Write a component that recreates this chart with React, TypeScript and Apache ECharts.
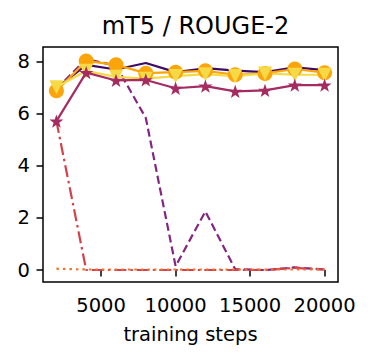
import React, { useEffect, useRef } from "react";
import * as echarts from "echarts";

const steps = [2000, 4000, 6000, 8000, 10000, 12000, 14000, 16000, 18000, 20000];
const darkSolid = [6.98, 7.88, 7.7, 7.95, 7.6, 7.75, 7.66, 7.6, 7.78, 7.68];
const dashedPurple = [6.95, 8.1, 7.85, 5.84, 0.15, 2.25, 0.03, 0.0, 0.1, 0.02];
const starLine = [5.72, 7.58, 7.28, 7.3, 6.98, 7.06, 6.86, 6.9, 7.1, 7.1];
const dashDotRed = [5.72, 0.0, 0.0, 0.0, 0.0, 0.0, 0.0, 0.0, 0.08, 0.02];
const dottedOrange = [0.05, 0.02, 0.02, 0.02, 0.02, 0.02, 0.02, 0.02, 0.02, 0.02];
const circleLine = [6.88, 8.03, 7.88, 7.56, 7.6, 7.65, 7.5, 7.55, 7.72, 7.58];
const triangleLine = [7.02, 7.65, 7.42, 7.35, 7.45, 7.52, 7.45, 7.55, 7.5, 7.5];
const xTicks = [5000, 10000, 15000, 20000];
const yTicks = [0, 2, 4, 6, 8];

const STAR = "path://M0,-10 L2.35,-3.24 L9.51,-3.09 L3.8,1.24 L5.88,8.09 L0,4 L-5.88,8.09 L-3.8,1.24 L-9.51,-3.09 L-2.35,-3.24 Z";
const FONT = "DejaVu Sans";

function pts(vals: number[]) {
  return steps.map((s, i) => [s, vals[i]]);
}

export default function App() {
  const ref = useRef<HTMLDivElement>(null);
  useEffect(() => {
    if (!ref.current) return;
    const chart = echarts.init(ref.current, undefined, { renderer: "svg" });
    const lw = 2.2;
    const line = (name: string, data: number[], color: string, type: any, extra: any = {}) => ({
      name,
      type: "line",
      data: pts(data),
      showSymbol: false,
      symbol: "none",
      lineStyle: { color, width: lw, type },
      itemStyle: { color },
      ...extra,
    });
    chart.setOption({
      animation: false,
      title: {
        text: "mT5 / ROUGE-2",
        left: 190.5,
        textAlign: "center",
        top: 9,
        textStyle: { fontFamily: FONT, fontSize: 24, fontWeight: "normal", color: "#000" },
      },
      grid: {
        left: 43,
        right: 35,
        top: 47,
        bottom: 79,
        show: true,
        borderColor: "#000",
        borderWidth: 1.5,
        backgroundColor: "transparent",
      },
      xAxis: {
        type: "value",
        min: 1100,
        max: 20900,
        name: "training steps",
        nameLocation: "middle",
        nameGap: 42,
        nameTextStyle: { fontFamily: FONT, fontSize: 19.5, color: "#000" },
        axisLine: { show: false },
        splitLine: { show: false },
        axisTick: { show: true, length: 6.5, customValues: xTicks, lineStyle: { color: "#000", width: 1.5 } },
        axisLabel: {
          customValues: xTicks,
          formatter: (v: number) => String(v),
          fontFamily: FONT,
          fontSize: 19.5,
          color: "#000",
          margin: 13,
        },
      },
      yAxis: {
        type: "value",
        min: -0.46,
        max: 8.565,
        axisLine: { show: false },
        splitLine: { show: false },
        axisTick: { show: true, length: 6.5, customValues: yTicks, lineStyle: { color: "#000", width: 1.5 } },
        axisLabel: { customValues: yTicks, fontFamily: FONT, fontSize: 19.5, color: "#000", margin: 13 },
      },
      series: [
        line("dark", darkSolid, "#3e0c64", "solid"),
        line("dashed", dashedPurple, "#842681", [8, 4]),
        line("dashdot", dashDotRed, "#d5404a", [12, 4, 2.5, 4]),
        line("dotted", dottedOrange, "#f3722c", [2.5, 4]),
        line("circle", circleLine, "#fca50a", "solid", {
          showSymbol: true,
          symbol: "circle",
          symbolSize: 15,
        }),
        line("triangle", triangleLine, "#f5d946", "solid", {
          showSymbol: true,
          symbol: "triangle",
          symbolRotate: 180,
          symbolSize: 14,
        }),
        line("star", starLine, "#a52c60", "solid", {
          showSymbol: true,
          symbol: STAR,
          symbolKeepAspect: true,
          symbolSize: 14,
        }),
      ],
    });
    return () => chart.dispose();
  }, []);
  return <div ref={ref} style={{ width: 373, height: 361, margin: -8 }} />;
}
